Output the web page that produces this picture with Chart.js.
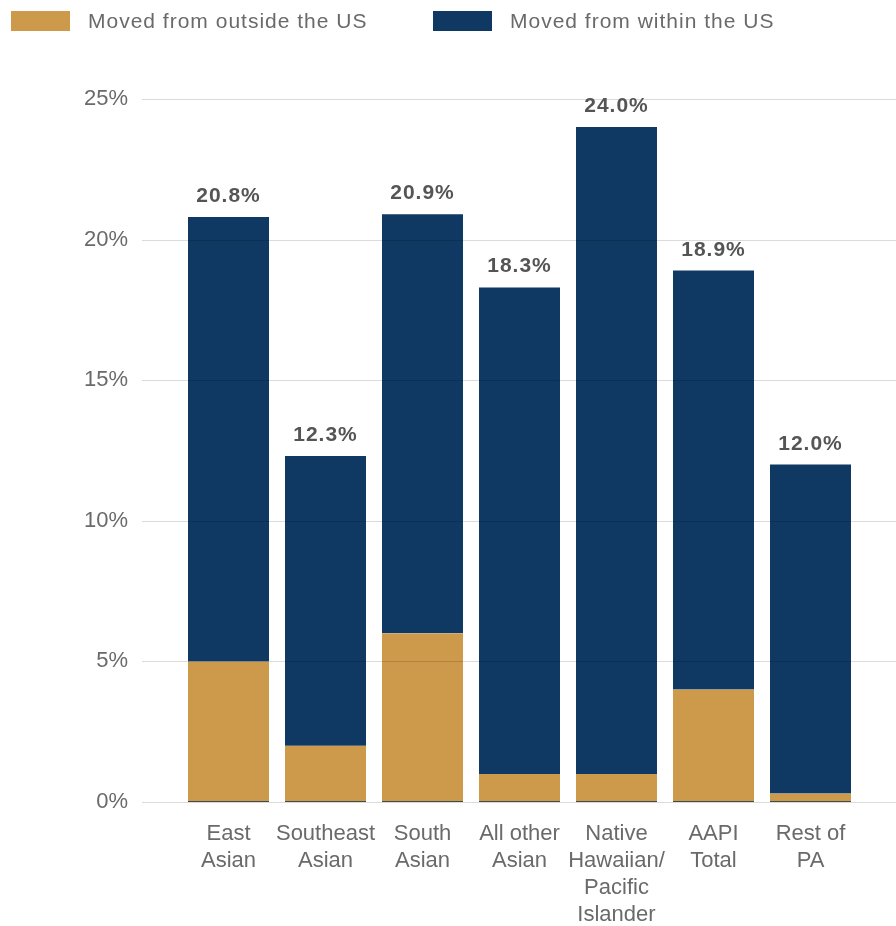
<!DOCTYPE html>
<html>
<head>
<meta charset="utf-8">
<title>Movers by group</title>
<script src="https://cdn.jsdelivr.net/npm/chart.js@4/dist/chart.umd.min.js"></script>
<style>
  html, body { margin: 0; padding: 0; background: #fff; }
  #wrap { width: 896px; height: 926px; }
</style>
</head>
<body>
<div id="wrap"><canvas id="moversChart" width="896" height="926"></canvas></div>
<script>
// groups along the x axis (one entry per line of the label)
const groups = [
  ['East', 'Asian'],
  ['Southeast', 'Asian'],
  ['South', 'Asian'],
  ['All other', 'Asian'],
  ['Native', 'Hawaiian/', 'Pacific', 'Islander'],
  ['AAPI', 'Total'],
  ['Rest of', 'PA']
];

// share of people who moved in the past year, %
const totalMoved = [20.8, 12.3, 20.9, 18.3, 24.0, 18.9, 12.0];
const fromOutside = [5.0, 2.0, 6.0, 1.0, 1.0, 4.0, 0.3];
const fromWithin = totalMoved.map((t, i) => +(t - fromOutside[i]).toFixed(1));

const yTicks = [0, 5, 10, 15, 20, 25];

const GOLD = '#cc9a4a';
const NAVY = '#0f3862';
const TEXT = '#6a6a6a';
const FONT = '"Liberation Sans", Arial, sans-serif';

// light grid drawn over the bars so it darkens them a touch
const gridOverBars = {
  id: 'gridOverBars',
  afterDatasetsDraw(chart) {
    const { ctx } = chart;
    const y = chart.scales.y;
    ctx.save();
    ctx.strokeStyle = 'rgba(0,0,0,0.14)';
    ctx.lineWidth = 1;
    yTicks.forEach(v => {
      const py = Math.round(y.getPixelForValue(v)) + 0.5;
      ctx.beginPath();
      ctx.moveTo(142, py);
      ctx.lineTo(896, py);
      ctx.stroke();
    });
    ctx.restore();
  }
};

// total labels above each stack
const totalLabels = {
  id: 'totalLabels',
  afterDatasetsDraw(chart) {
    const { ctx } = chart;
    const meta = chart.getDatasetMeta(1);
    ctx.save();
    ctx.font = 'bold 21px ' + FONT;
    ctx.fillStyle = '#555555';
    ctx.textAlign = 'center';
    ctx.textBaseline = 'alphabetic';
    ctx.letterSpacing = '1px';
    meta.data.forEach((bar, i) => {
      const top = chart.scales.y.getPixelForValue(totalMoved[i]);
      ctx.fillText(totalMoved[i].toFixed(1) + '%', bar.x, top - 15);
    });
    ctx.restore();
  }
};

// legend row at the top left
const topLegend = {
  id: 'topLegend',
  afterDraw(chart) {
    const { ctx } = chart;
    const starts = [11, 433];
    ctx.save();
    ctx.font = '21px ' + FONT;
    ctx.letterSpacing = '1px';
    ctx.textBaseline = 'middle';
    ctx.textAlign = 'left';
    chart.data.datasets.forEach((ds, i) => {
      const x = starts[i];
      ctx.fillStyle = ds.backgroundColor;
      ctx.fillRect(x, 11, 59, 20);
      ctx.fillStyle = TEXT;
      ctx.fillText(ds.label, x + 77, 22);
    });
    ctx.restore();
  }
};

const ctx = document.getElementById('moversChart').getContext('2d');
new Chart(ctx, {
  type: 'bar',
  data: {
    labels: groups,
    datasets: [
      {
        label: 'Moved from outside the US',
        data: fromOutside,
        backgroundColor: GOLD,
        borderColor: '#3e4a50',
        borderWidth: { top: 0, left: 0, right: 0, bottom: 1 },
        borderSkipped: false,
        barPercentage: 0.835,
        categoryPercentage: 1
      },
      {
        label: 'Moved from within the US',
        data: fromWithin,
        backgroundColor: NAVY,
        borderWidth: 0,
        barPercentage: 0.835,
        categoryPercentage: 1
      }
    ]
  },
  options: {
    responsive: false,
    animation: false,
    layout: { padding: { top: 99, right: 37, left: 0, bottom: 0 } },
    plugins: {
      legend: { display: false },
      tooltip: { enabled: false }
    },
    scales: {
      x: {
        stacked: true,
        grid: { display: false, drawTicks: false },
        border: { display: false },
        ticks: {
          color: TEXT,
          padding: 18,
          maxRotation: 0,
          autoSkip: false,
          font: { family: FONT, size: 22, lineHeight: 1.23 }
        },
        afterFit(scale) { scale.height = 124; }
      },
      y: {
        stacked: true,
        min: 0,
        max: 25,
        grid: { display: false, drawTicks: false },
        border: { display: false },
        afterBuildTicks(scale) { scale.ticks = yTicks.map(v => ({ value: v })); },
        ticks: {
          color: TEXT,
          padding: 52,
          font: { family: FONT, size: 22 },
          callback: v => v + '%'
        },
        afterFit(scale) { scale.width = 180; }
      }
    }
  },
  plugins: [gridOverBars, totalLabels, topLegend]
});
</script>
</body>
</html>
